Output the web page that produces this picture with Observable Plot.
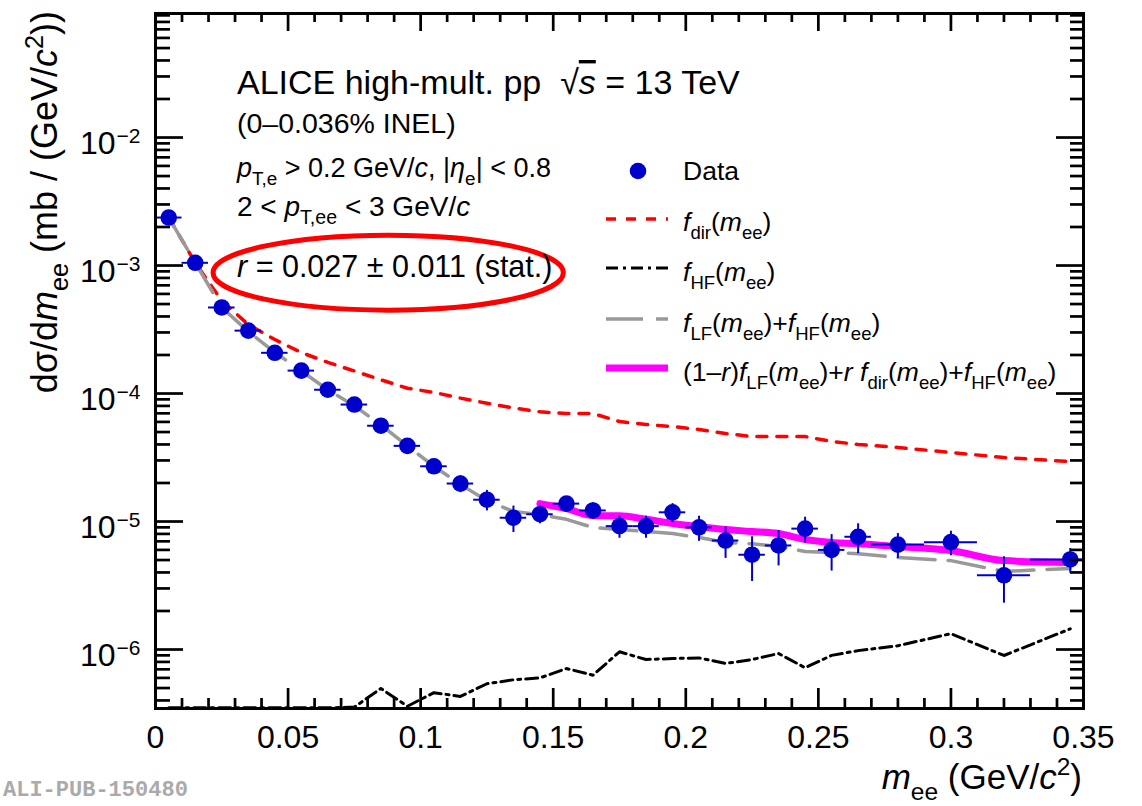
<!DOCTYPE html>
<html><head><meta charset="utf-8">
<script src="https://cdn.jsdelivr.net/npm/d3@7"></script>
<script src="https://cdn.jsdelivr.net/npm/@observablehq/plot@0.6"></script>
<style>html,body{margin:0;padding:0;background:#fff;} svg{display:block;}</style>
</head><body><div id="chart"></div>
<script>
// ---- data ----
const massCenters = [0.005,0.015,0.025,0.035,0.045,0.055,0.065,0.075,0.085,0.095,0.105,0.115,0.125,0.135,0.145,0.155,0.165,0.175,0.185,0.195,0.205,0.215,0.225,0.235,0.245,0.255,0.265,0.28,0.30,0.32,0.345];
const massLow  = [0,0.01,0.02,0.03,0.04,0.05,0.06,0.07,0.08,0.09,0.10,0.11,0.12,0.13,0.14,0.15,0.16,0.17,0.18,0.19,0.20,0.21,0.22,0.23,0.24,0.25,0.26,0.27,0.29,0.31,0.33];
const massHigh = [0.01,0.02,0.03,0.04,0.05,0.06,0.07,0.08,0.09,0.10,0.11,0.12,0.13,0.14,0.15,0.16,0.17,0.18,0.19,0.20,0.21,0.22,0.23,0.24,0.25,0.26,0.27,0.29,0.31,0.33,0.36];
const yields   = [2.37e-3,1.05e-3,4.7e-4,3.1e-4,2.08e-4,1.51e-4,1.07e-4,8.2e-5,5.6e-5,3.9e-5,2.7e-5,1.98e-5,1.48e-5,1.07e-5,1.14e-5,1.38e-5,1.22e-5,9.2e-6,9.2e-6,1.18e-5,9.0e-6,7.1e-6,5.5e-6,6.5e-6,8.8e-6,6.0e-6,7.6e-6,6.6e-6,6.9e-6,3.8e-6,5.05e-6];
const statErr  = [6e-5,3.5e-5,2e-5,1.5e-5,1.2e-5,1e-5,8e-6,6e-6,5e-6,4e-6,3.5e-6,3e-6,2.7e-6,2.5e-6,1.8e-6,1.8e-6,1.8e-6,1.8e-6,1.8e-6,2.0e-6,2.0e-6,1.95e-6,2.1e-6,2.0e-6,2.0e-6,1.9e-6,2.0e-6,1.45e-6,1.5e-6,1.5e-6,1.1e-6];

const fDir     = [2.37e-3,1.05e-3,5.3e-4,3.46e-4,2.64e-4,2.09e-4,1.75e-4,1.5e-4,1.28e-4,1.1e-4,1.02e-4,9.2e-5,8.4e-5,7.7e-5,7.2e-5,6.97e-5,6.97e-5,6.04e-5,5.73e-5,5.52e-5,5.23e-5,4.87e-5,4.61e-5,4.61e-5,4.61e-5,4.22e-5,4.0e-5,3.79e-5,3.46e-5,3.16e-5,2.94e-5];
const fLFplusHF= [2.37e-3,1.05e-3,4.7e-4,3.05e-4,2.1e-4,1.5e-4,1.07e-4,8.0e-5,5.7e-5,3.9e-5,2.7e-5,1.95e-5,1.45e-5,1.2e-5,1.13e-5,1.04e-5,8.98e-6,8.66e-6,8.35e-6,8.05e-6,7.5e-6,6.85e-6,6.7e-6,6.38e-6,5.83e-6,5.72e-6,5.6e-6,5.23e-6,4.95e-6,4.07e-6,4.3e-6];
const fHF      = [3.5e-7,3.5e-7,3.5e-7,3.5e-7,3.5e-7,3.5e-7,3.5e-7,3.55e-7,4.96e-7,3.6e-7,4.6e-7,4.3e-7,5.4e-7,5.8e-7,6.0e-7,7.1e-7,6.3e-7,9.6e-7,8.35e-7,8.5e-7,8.6e-7,7.78e-7,8.35e-7,9.3e-7,7.2e-7,9.0e-7,9.8e-7,1.07e-6,1.33e-6,8.98e-7,1.45e-6];
const mixMass  = [0.145,0.155,0.165,0.175,0.185,0.195,0.205,0.215,0.225,0.235,0.245,0.255,0.265,0.28,0.30,0.32,0.345];
const fMix     = [1.38e-5,1.26e-5,1.11e-5,1.11e-5,1.04e-5,9.65e-6,9.1e-6,8.66e-6,8.35e-6,8.05e-6,7.23e-6,6.85e-6,6.7e-6,6.38e-6,5.93e-6,4.95e-6,4.78e-6];

const xMajorTicks = [0,0.05,0.1,0.15,0.2,0.25,0.3,0.35];
const xTickLabels = ["0","0.05","0.1","0.15","0.2","0.25","0.3","0.35"];
const yMajorTicks = [1e-6,1e-5,1e-4,1e-3,1e-2];
const yTickExponents = ["\u22126","\u22125","\u22124","\u22123","\u22122"];
const xDomain = [0,0.35];
const yDomain = [3.46e-7,0.0931];
// annotation ellipse around the r value (data coordinates)
const ellipseBox = {x0:0.0219, x1:0.154, yTop:1.71e-3, yBottom:4.44e-4};

// ---- layout ----
const W=1142, H=806, ML=155, MR=59, MT=13, MB=98;
const FW = W-ML-MR, FH = H-MT-MB;
const blue = "#0000cc";
const font = "'Liberation Sans', Arial, Helvetica, sans-serif";

const rows = massCenters.map((m,i)=>({m, lo:massLow[i], hi:massHigh[i], y:yields[i], e:statErr[i]}));
const xMinor = d3.range(0, 36).map(i=>i/100).filter(v=>Math.abs(v*20-Math.round(v*20))>1e-6);
const yMinor = [];
for (const d of [1e-7,1e-6,1e-5,1e-4,1e-3,1e-2]) for (let k=2;k<=9;k++){const v=k*d; if(v>=yDomain[0]&&v<=yDomain[1]) yMinor.push(v);}

const chart = Plot.plot({
  width: W, height: H, marginLeft: ML, marginRight: MR, marginTop: MT, marginBottom: MB,
  x: {type:"linear", domain:xDomain, axis:null},
  y: {type:"log", domain:yDomain, axis:null},
  style: {fontFamily: font, background:"white", color:"black", overflow:"hidden"},
  marks: [
    Plot.line(massCenters.map((m,i)=>({m,v:fHF[i]})), {x:"m", y:"v", stroke:"black", strokeWidth:3, strokeDasharray:"12,5,3,5"}),
    Plot.line(massCenters.map((m,i)=>({m,v:fDir[i]})), {x:"m", y:"v", stroke:"#ff0000", strokeWidth:3.5, strokeDasharray:"10,10", clip:true}),
    Plot.line(massCenters.map((m,i)=>({m,v:fLFplusHF[i]})), {x:"m", y:"v", stroke:"#999999", strokeWidth:3.5, strokeDasharray:"37,13", clip:true}),
    Plot.line(mixMass.map((m,i)=>({m,v:fMix[i]})), {x:"m", y:"v", stroke:"#ff00ff", strokeWidth:7, curve:"monotone-x", clip:true}),
    Plot.ruleY(rows, {y:"y", x1:"lo", x2:"hi", stroke:blue, strokeWidth:2, clip:true}),
    Plot.ruleX(rows, {x:"m", y1:d=>d.y-d.e, y2:d=>d.y+d.e, stroke:blue, strokeWidth:2, clip:true}),
    Plot.dot(rows, {x:"m", y:"y", r:8.3, fill:blue, stroke:null}),
    // frame ticks
    Plot.tickX(xMajorTicks, {x:d=>d, insetTop:FH-20, stroke:"black", strokeWidth:2.7}),
    Plot.tickX(xMajorTicks, {x:d=>d, insetBottom:FH-18, stroke:"black", strokeWidth:2.7}),
    Plot.tickX(xMinor, {x:d=>d, insetTop:FH-10, stroke:"black", strokeWidth:2.7}),
    Plot.tickX(xMinor, {x:d=>d, insetBottom:FH-9, stroke:"black", strokeWidth:2.7}),
    Plot.tickY(yMajorTicks, {y:d=>d, insetRight:FW-28, stroke:"black", strokeWidth:2.7}),
    Plot.tickY(yMajorTicks, {y:d=>d, insetLeft:FW-27, stroke:"black", strokeWidth:2.7}),
    Plot.tickY(yMinor, {y:d=>d, insetRight:FW-15, stroke:"black", strokeWidth:2.7}),
    Plot.tickY(yMinor, {y:d=>d, insetLeft:FW-13, stroke:"black", strokeWidth:2.7}),
    Plot.frame({stroke:"black", strokeWidth:3}),
    // tick labels
    Plot.text(xMajorTicks, {x:d=>d, text:xTickLabels, frameAnchor:"bottom", dy:39, lineAnchor:"bottom", fontSize:32, fill:"black"}),
    Plot.text(yMajorTicks, {y:d=>d, text:()=>"10", frameAnchor:"left", textAnchor:"end", dx:-40, dy:16, lineAnchor:"bottom", fontSize:32, fill:"black"}),
    Plot.text(yMajorTicks, {y:d=>d, text:yTickExponents, frameAnchor:"left", textAnchor:"start", dx:-39, dy:5, lineAnchor:"bottom", fontSize:21, fill:"black"})
  ]
});
document.getElementById("chart").appendChild(chart);

// ---- annotations (rich text, legend, ellipse) ----
const svg = d3.select(chart);
const sx = chart.scale("x"), sy = chart.scale("y");
const S = (t,o={}) => ({t,...o});
function rich(x, y, size, segs, anchor="start", rotate=0) {
  const t = svg.append("text").attr("font-size", size).attr("text-anchor", anchor).attr("fill","black").attr("font-family", font);
  if (rotate) t.attr("transform", `translate(${x},${y}) rotate(${rotate})`); else t.attr("x", x).attr("y", y);
  let shift = 0;
  for (const s of segs) {
    const target = s.sub ? 0.3*size : s.sup ? -0.4*size : 0;
    const ts = t.append("tspan").text(s.t).attr("dy", target-shift);
    shift = target;
    if (s.sub || s.sup) ts.attr("font-size", size*0.7);
    if (s.i) ts.attr("font-style","italic");
    if (s.over) ts.attr("text-decoration","overline");
  }
  return t;
}

// ellipse
const ex0 = sx.apply(ellipseBox.x0), ex1 = sx.apply(ellipseBox.x1);
const ey0 = sy.apply(ellipseBox.yTop), ey1 = sy.apply(ellipseBox.yBottom);
svg.append("ellipse").attr("cx",(ex0+ex1)/2).attr("cy",(ey0+ey1)/2).attr("rx",(ex1-ex0)/2).attr("ry",(ey1-ey0)/2)
  .attr("fill","none").attr("stroke","#ff0000").attr("stroke-width",5);

// text block
rich(237, 94, 34, [S("ALICE high-mult. pp  \u221A"), S("s",{i:true,over:true}), S(" = 13 TeV")]);
rich(237, 133, 28.5, [S("(0\u20130.036% INEL)")]);
rich(237, 177, 27, [S("p",{i:true}), S("T,e",{sub:true}), S(" > 0.2 GeV/"), S("c",{i:true}), S(", |"), S("\u03B7",{i:true}), S("e",{sub:true}), S("| < 0.8")]);
rich(237, 216, 28, [S("2 < "), S("p",{i:true}), S("T,ee",{sub:true}), S(" < 3 GeV/"), S("c",{i:true})]);
rich(237, 277, 30.5, [S("r",{i:true}), S(" = 0.027 \u00B1 0.011 (stat.)")]);

// legend
const LX0 = 606, LX1 = 668, TX = 683;
svg.append("circle").attr("cx",638).attr("cy",171).attr("r",8.3).attr("fill",blue);
rich(TX, 180, 26.5, [S("Data")]);
svg.append("line").attr("x1",LX0).attr("x2",LX1).attr("y1",219).attr("y2",219).attr("stroke","#ff0000").attr("stroke-width",3.5).attr("stroke-dasharray","10,10");
rich(TX, 231, 26.5, [S("f",{i:true}), S("dir",{sub:true}), S("("), S("m",{i:true}), S("ee",{sub:true}), S(")")]);
svg.append("line").attr("x1",LX0).attr("x2",LX1).attr("y1",268).attr("y2",268).attr("stroke","black").attr("stroke-width",3).attr("stroke-dasharray","12,5,3,5");
rich(TX, 281, 26.5, [S("f",{i:true}), S("HF",{sub:true}), S("("), S("m",{i:true}), S("ee",{sub:true}), S(")")]);
svg.append("line").attr("x1",LX0).attr("x2",LX1).attr("y1",319).attr("y2",319).attr("stroke","#999999").attr("stroke-width",3.5).attr("stroke-dasharray","37,13");
rich(TX, 332, 26.5, [S("f",{i:true}), S("LF",{sub:true}), S("("), S("m",{i:true}), S("ee",{sub:true}), S(")+"), S("f",{i:true}), S("HF",{sub:true}), S("("), S("m",{i:true}), S("ee",{sub:true}), S(")")]);
svg.append("line").attr("x1",LX0).attr("x2",LX1).attr("y1",368).attr("y2",368).attr("stroke","#ff00ff").attr("stroke-width",7);
rich(TX, 381, 26.5, [S("(1\u2013"), S("r",{i:true}), S(")"), S("f",{i:true}), S("LF",{sub:true}), S("("), S("m",{i:true}), S("ee",{sub:true}), S(")+"), S("r",{i:true}), S(" "), S("f",{i:true}), S("dir",{sub:true}), S("("), S("m",{i:true}), S("ee",{sub:true}), S(")+"), S("f",{i:true}), S("HF",{sub:true}), S("("), S("m",{i:true}), S("ee",{sub:true}), S(")")]);

// axis titles
rich(1082, 789, 35, [S("m",{i:true}), S("ee",{sub:true}), S(" (GeV/"), S("c",{i:true}), S("2",{sup:true}), S(")")], "end");
rich(57, 11, 36, [S("d\u03C3/d"), S("m",{i:true}), S("ee",{sub:true}), S(" (mb / (GeV/"), S("c",{i:true}), S("2",{sup:true}), S("))")], "end", -90);

// watermark
svg.append("text").attr("x",3).attr("y",796).attr("text-anchor","start").attr("font-family","'Liberation Mono', 'DejaVu Sans Mono', monospace").attr("font-weight","bold").attr("font-size",22).attr("fill","#aaaaaa").text("ALI-PUB-150480");
</script>
</body></html>
